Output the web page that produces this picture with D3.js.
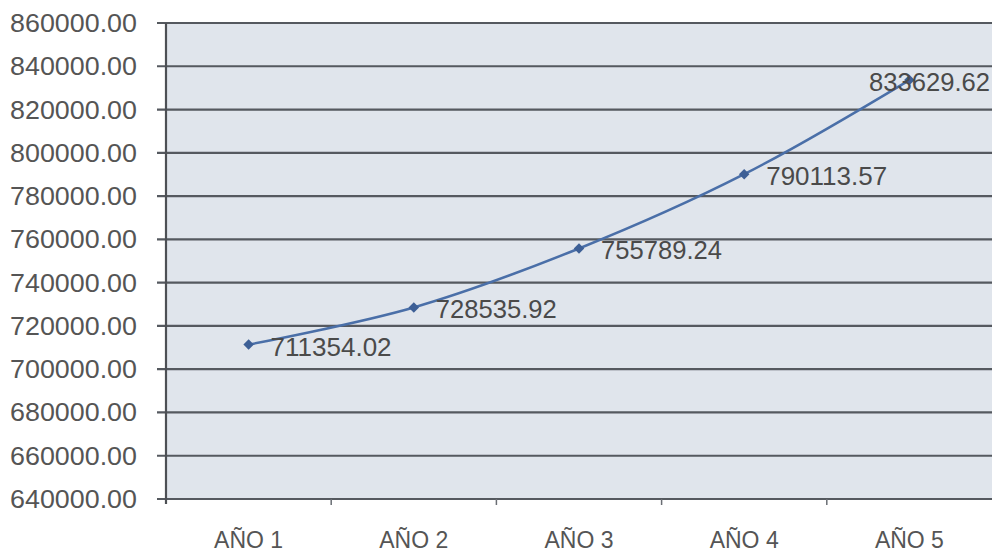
<!DOCTYPE html>
<html><head><meta charset="utf-8">
<script src="https://cdn.jsdelivr.net/npm/d3@7"></script>
<style>body{margin:0;background:#fff}text{font-family:"Liberation Sans",Arial,sans-serif}</style>
</head><body><svg id="c" width="992" height="552"></svg>
<script>
const categories = ["AÑO 1","AÑO 2","AÑO 3","AÑO 4","AÑO 5"];
const values = [711354.02, 728535.92, 755789.24, 790113.57, 833629.62];
const yTicks = [640000,660000,680000,700000,720000,740000,760000,780000,800000,820000,840000,860000];

const svg = d3.select("#c");
const L = 166, R = 992, T = 23, B = 499;
const x = d3.scaleBand().domain(categories).range([L, R]);
const y = d3.scaleLinear().domain([640000, 860000]).range([B, T]);

svg.append("rect").attr("x", L).attr("y", T).attr("width", R - L).attr("height", B - T).attr("fill", "#e0e5ec");

// gridlines
svg.append("g").selectAll("line").data(yTicks).join("line")
  .attr("x1", L - 9).attr("x2", R).attr("y1", d => y(d)).attr("y2", d => y(d))
  .attr("stroke", "#55595f").attr("stroke-width", 2.2);

// y axis line
svg.append("line").attr("x1", L).attr("x2", L).attr("y1", T).attr("y2", B + 5)
  .attr("stroke", "#4d5055").attr("stroke-width", 2.2);

// y tick labels
svg.append("g").selectAll("text").data(yTicks).join("text")
  .attr("x", 137).attr("y", d => y(d)).attr("dy", "0.36em")
  .attr("text-anchor", "end").attr("font-size", 25).attr("fill", "#555")
  .attr("textLength", 127).attr("lengthAdjust", "spacingAndGlyphs")
  .text(d => d3.format(".2f")(d));

// x ticks at band boundaries
const bounds = categories.slice(1).map(c => x(c));
svg.append("g").selectAll("line").data(bounds).join("line")
  .attr("x1", d => d).attr("x2", d => d).attr("y1", B).attr("y2", B + 6)
  .attr("stroke", "#6a6e74").attr("stroke-width", 1.5);

// x labels
svg.append("g").selectAll("text").data(categories).join("text")
  .attr("x", d => x(d) + x.bandwidth() / 2).attr("y", 548)
  .attr("text-anchor", "middle").attr("font-size", 23).attr("fill", "#555")
  .text(d => d);

// line
const cx = i => x(categories[i]) + x.bandwidth() / 2;
const line = d3.line().x((d, i) => cx(i)).y(d => y(d)).curve(d3.curveCatmullRom.alpha(0.5));
svg.append("path").datum(values).attr("d", line).attr("fill", "none")
  .attr("stroke", "#4a6fa8").attr("stroke-width", 2.5);

// markers (square rotated 45° = Excel diamond)
svg.append("g").selectAll("path").data(values).join("path")
  .attr("transform", (d, i) => `translate(${cx(i)},${y(d)}) rotate(45)`)
  .attr("d", d3.symbol(d3.symbolSquare, 55)())
  .attr("fill", "#3d5f96");

// data labels
svg.append("g").selectAll("text").data(values).join("text")
  .attr("x", (d, i) => i === values.length - 1 ? 990 : cx(i) + 22)
  .attr("y", d => y(d) + 2).attr("dy", "0.36em")
  .attr("text-anchor", (d, i) => i === values.length - 1 ? "end" : "start")
  .attr("font-size", 25).attr("fill", "#4a4a4a")
  .attr("textLength", 121).attr("lengthAdjust", "spacingAndGlyphs")
  .text(d => d3.format(".2f")(d));
</script></body></html>
